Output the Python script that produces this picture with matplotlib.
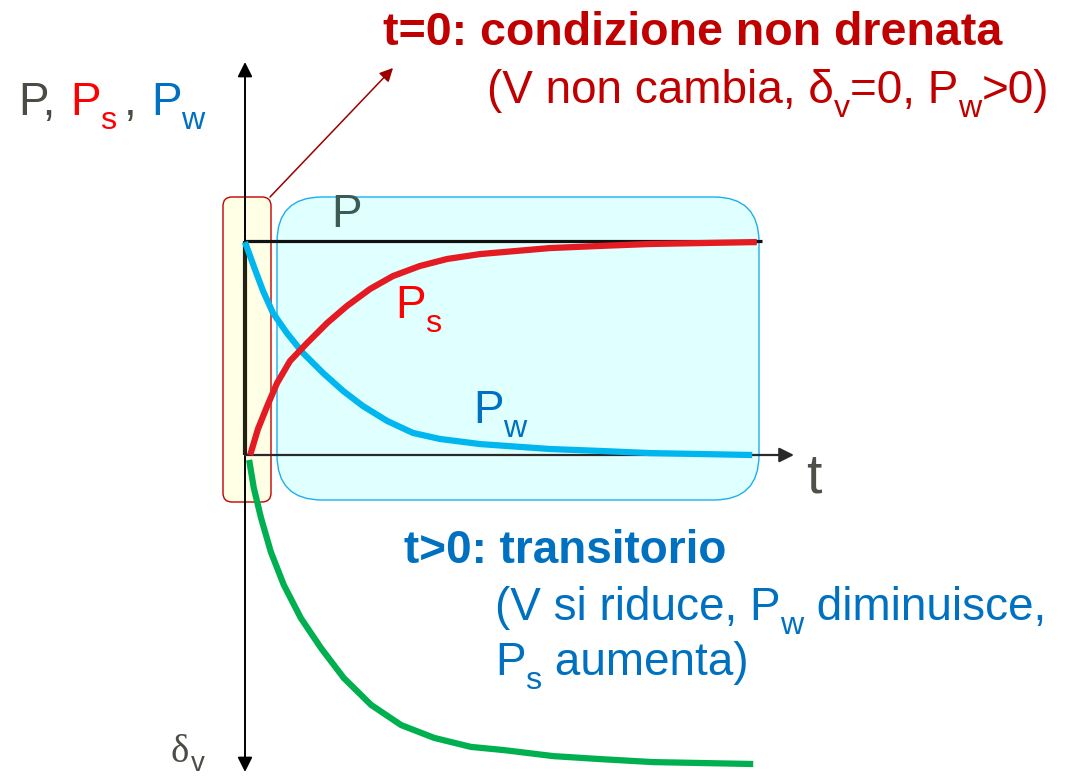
import matplotlib
matplotlib.use('Agg')
import matplotlib.pyplot as plt
from matplotlib.patches import FancyBboxPatch
from matplotlib.transforms import Affine2D
from matplotlib import font_manager

W, H = 1075, 778
names = {f.name for f in font_manager.fontManager.ttflist}
SANS = 'Liberation Sans' if 'Liberation Sans' in names else 'DejaVu Sans'
SERIF = 'Liberation Serif' if 'Liberation Serif' in names else 'DejaVu Serif'
plt.rcParams['font.family'] = [SANS, 'DejaVu Sans']

# ---- data (normalised time, normalised pressure / settlement) ----
t_ps = [0.010, 0.025, 0.043, 0.062, 0.087, 0.120, 0.159, 0.197, 0.242, 0.286, 0.338, 0.391,
        0.455, 0.590, 0.687, 0.783, 0.990]
ps   = [0.000, 0.121, 0.229, 0.336, 0.439, 0.523, 0.617, 0.696, 0.776, 0.836, 0.883, 0.916,
        0.939, 0.967, 0.977, 0.986, 0.995]
t_pw = [0.000, 0.019, 0.035, 0.054, 0.081, 0.112, 0.151, 0.190, 0.228, 0.275, 0.325, 0.377,
        0.455, 0.590, 0.687, 0.783, 0.981]
pw   = [0.995, 0.869, 0.766, 0.664, 0.570, 0.477, 0.383, 0.299, 0.229, 0.159, 0.103, 0.075,
        0.051, 0.028, 0.019, 0.009, 0.000]
t_dv = [0.008, 0.017, 0.031, 0.050, 0.075, 0.108, 0.147, 0.191, 0.244, 0.302, 0.366, 0.437,
        0.501, 0.596, 0.687, 0.789, 0.983]
dv   = [-0.023, -0.154, -0.294, -0.453, -0.607, -0.762, -0.902, -1.042, -1.168, -1.262, -1.322,
        -1.364, -1.379, -1.407, -1.421, -1.435, -1.444]
p_t, p_val = [0.0, 1.0], [1.0, 1.0]
jump_t, jump_val = [0.0, 0.0], [0.0, 1.0]

# ---- layout (pixel mapping of the normalised axes) ----
X0, Y0, SX, SY = 245, 455, 517, 214

fig = plt.figure(figsize=(W / 100, H / 100), dpi=100)
fig.patch.set_facecolor('white')
ax = fig.add_axes([0, 0, 1, 1])
ax.set_xlim(-X0 / SX, (W - X0) / SX)
ax.set_ylim((Y0 - H) / SY, Y0 / SY)
ax.axis('off')
pix = Affine2D().scale(1 / W, -1 / H).translate(0, 1) + fig.transFigure
renderer = fig.canvas.get_renderer()

# boxes
ax.add_patch(FancyBboxPatch((223, 197), 48, 305, boxstyle='round,pad=0,rounding_size=9',
                            transform=pix, facecolor='#FFFFE6', edgecolor='#C00000', lw=1.0, zorder=1))
ax.add_patch(FancyBboxPatch((277, 197), 482, 303, boxstyle='round,pad=0,rounding_size=45',
                            transform=pix, facecolor='#E0FFFF', edgecolor='#1AB0EC', lw=1.0, zorder=1))

# axes arrows
ax.annotate('', xy=(245, 62), xytext=(245, 772), xycoords=pix, textcoords=pix,
            arrowprops=dict(arrowstyle='<|-|>', color='black', lw=1.4, mutation_scale=22,
                            shrinkA=0, shrinkB=0), zorder=3)
ax.annotate('', xy=(794, 455), xytext=(245, 455), xycoords=pix, textcoords=pix,
            arrowprops=dict(arrowstyle='-|>', color='#2a2a2a', lw=1.6, mutation_scale=22,
                            shrinkA=0, shrinkB=0), zorder=3)
# arrow to t=0 caption
ax.annotate('', xy=(393, 68), xytext=(270, 197), xycoords=pix, textcoords=pix,
            arrowprops=dict(arrowstyle='-|>', color='#9A0000', lw=1.1, mutation_scale=20,
                            shrinkA=0, shrinkB=0), zorder=3)

# total load P and the jump at t=0
ax.plot(p_t, p_val, color='#111111', lw=2.3, solid_capstyle='butt', zorder=4)
ax.plot(jump_t, jump_val, color='#23210F', lw=3.0, solid_capstyle='butt', zorder=4)

# curves
ax.plot(t_dv, dv, color='#00B050', lw=4.5, solid_capstyle='butt', solid_joinstyle='round', zorder=5)
ax.plot(t_pw, pw, color='#00B6EF', lw=4.5, solid_capstyle='butt', solid_joinstyle='round', zorder=5)
ax.plot(t_ps, ps, color='#E41B22', lw=4.5, solid_capstyle='butt', solid_joinstyle='round', zorder=6)

# texts
RED, BLUE, GRAY = '#C00000', '#0070C0', '#4C4C44'


def txt(x, y, s, color, size=33, weight='normal', family=None):
    kw = {'family': family} if family else {}
    return ax.text(x, y, s, transform=pix, color=color, fontsize=size, fontweight=weight,
                   ha='left', va='baseline', zorder=7, **kw)


def advance(s, size, weight='normal', family=None):
    a = txt(0, 0, s + '|', 'k', size, weight, family)
    b = txt(0, 0, '|', 'k', size, weight, family)
    w = a.get_window_extent(renderer).width - b.get_window_extent(renderer).width
    a.remove()
    b.remove()
    return w


def rich(x, y, pieces, color, size=33, weight='normal'):
    for s, sub in pieces:
        sz = size * 0.7 if sub else size
        yy = y + size * 0.42 if sub else y
        txt(x, yy, s, color, sz, weight)
        x += advance(s, sz, weight)


txt(383, 45, 't=0: condizione non drenata', RED, size=33.5, weight='bold')
rich(487, 103, [('(V non cambia, δ', False), ('v', True), ('=0, P', False), ('w', True),
                ('>0)', False)], RED)
txt(404, 563, 't>0: transitorio', BLUE, weight='bold')
rich(495, 620, [('(V si riduce, P', False), ('w', True), (' diminuisce,', False)], BLUE)
rich(495, 675, [('P', False), ('s', True), (' aumenta)', False)], BLUE)

txt(18, 115, 'P,', GRAY)
rich(70, 115, [('P', False), ('s', True)], '#FF0000')
txt(124, 115, ',', GRAY)
rich(151, 115, [('P', False), ('w', True)], BLUE)

txt(331, 227, 'P', '#3E5A55')
rich(395, 318, [('P', False), ('s', True)], '#FF0000')
rich(473, 423, [('P', False), ('w', True)], BLUE)
txt(806, 493, 't', '#505048', size=40)
txt(171, 762, 'δ', GRAY, size=28, family=SERIF)
txt(191, 771, 'v', GRAY, size=20)

fig.savefig('out.png', dpi=100, facecolor='white')
